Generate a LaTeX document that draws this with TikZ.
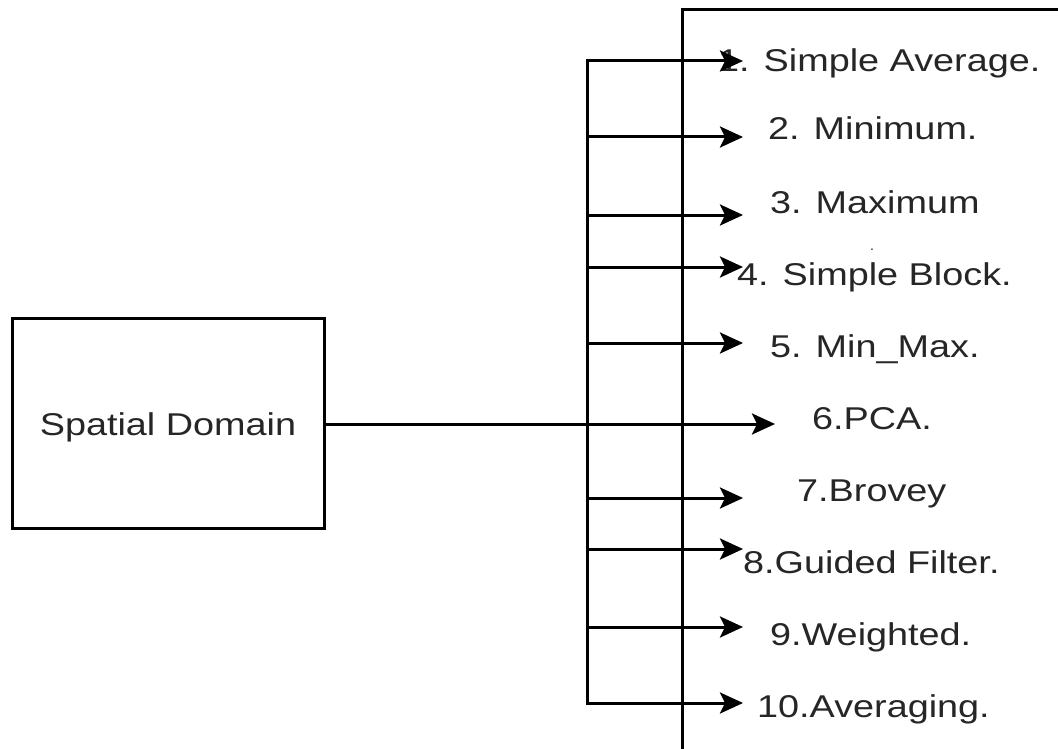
\documentclass[tikz,border=0pt]{standalone}
\usepackage{fontspec}
\setmainfont{Liberation Sans}
\usepackage{graphicx}
\usetikzlibrary{arrows.meta}
\newcommand{\wide}[1]{\scalebox{1.2}[1]{#1}}
\begin{document}
\begin{tikzpicture}[x=1pt,y=-1pt,
  box/.style={draw=black,line width=3pt,inner sep=0pt,outer sep=0pt},
  wire/.style={line width=3pt,line cap=rect},
  arr/.style={line width=3pt,-{Stealth[length=23pt,width=21pt,inset=5pt]}},
  item/.style={anchor=base west,inner sep=0pt,text=black!85,
    font=\fontsize{31.5}{36}\selectfont},
]
\useasboundingbox (0,0) rectangle (1058,749);
\clip (0,0) rectangle (1058,749);
\fill[white] (0,0) rectangle (1058,749);

% source block
\node[box,minimum width=312pt,minimum height=210pt,text=black!85,
      font=\fontsize{31.5}{36}\selectfont,text height=24pt,text depth=0pt]
  (sd) at (168,423) {\wide{Spatial Domain}};

% frame holding the list of methods
\node[box,anchor=north west,minimum width=500pt,minimum height=800pt]
  (methods) at (682,10) {};

% method labels
\node[item] (l1)  at (718,72)  {\wide{1. Simple Average.}};
\node[item] (l2)  at (768,140) {\wide{2. Minimum.}};
\node[item] (l3)  at (770,214) {\wide{3. Maximum}};
\node[item,font=\fontsize{14}{16}\selectfont] (dot) at (870,250) {.};
\node[item] (l4)  at (737,285) {\wide{4. Simple Block.}};
\node[item] (l5)  at (770,357) {\wide{5. Min\_Max.}};
\node[item] (l6)  at (812,429) {\wide{6.PCA.}};
\node[item] (l7)  at (797,501) {\wide{7.Brovey}};
\node[item] (l8)  at (743,573) {\wide{8.Guided Filter.}};
\node[item] (l9)  at (770,645) {\wide{9.Weighted.}};
\node[item] (l10) at (757,717) {\wide{10.Averaging.}};

% bus taps and arrow tips
\coordinate (b1)  at (587,61);
\coordinate (b2)  at (587,137);
\coordinate (b3)  at (587,215);
\coordinate (b4)  at (587,267);
\coordinate (b5)  at (587,343);
\coordinate (b7)  at (587,498);
\coordinate (b8)  at (587,549);
\coordinate (b9)  at (587,627);
\coordinate (b10) at (587,703);
\coordinate (t1)  at (743,61);
\coordinate (t2)  at (743,137);
\coordinate (t3)  at (743,215);
\coordinate (t4)  at (743,267);
\coordinate (t5)  at (743,343);
\coordinate (t6)  at (775,424);
\coordinate (t7)  at (743,498);
\coordinate (t8)  at (743,549);
\coordinate (t9)  at (743,627);
\coordinate (t10) at (743,703);

% vertical bus
\draw[wire] (b1) -- (b10);

% main feed from the source block
\draw[arr] (sd.east |- t6) -- (t6);

% branches to each method
\foreach \i in {1,2,3,4,5,7,8,9,10}
  \draw[arr] (b\i) -- (t\i);
\end{tikzpicture}
\end{document}
